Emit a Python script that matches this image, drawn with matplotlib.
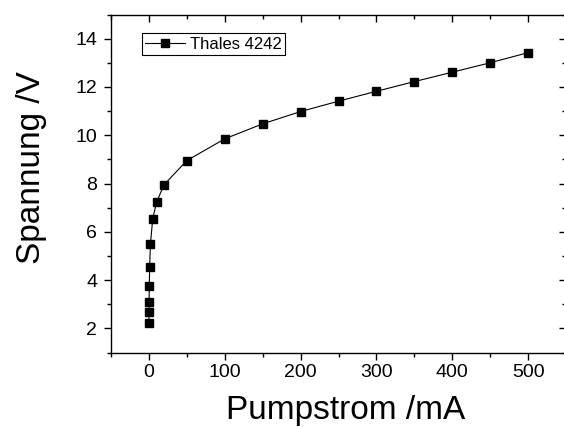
"""Pump voltage vs. pump current of a Thales 4242 (Origin-style plot)."""

import matplotlib
matplotlib.use('Agg')
import matplotlib.pyplot as plt
from matplotlib.ticker import MultipleLocator

# pump current in mA
current = [0, 0.1, 0.2, 0.5, 1, 2, 5, 10, 20, 50, 100, 150, 200, 250,
           300, 350, 400, 450, 500]
# voltage in V
voltage = [2.24, 2.67, 3.09, 3.74, 4.56, 5.50, 6.53, 7.22, 7.95, 8.95,
           9.85, 10.47, 10.98, 11.41, 11.82, 12.22, 12.61, 13.00, 13.42]

series_label = 'Thales 4242'
x_label = 'Pumpstrom /mA'
y_label = 'Spannung /V'


def make_plot(name):
    plt.rcParams['font.family'] = ['Liberation Sans', 'DejaVu Sans']
    fig = plt.figure(figsize=(5.64, 4.28), dpi=100)
    ax = fig.add_axes([111 / 564, 1 - 352.5 / 428,
                       455 / 564, 338 / 428])

    ax.plot(current, voltage, color='k', linewidth=0.8, marker='s',
            markersize=5.5, label=series_label)

    ax.set_xlim(-50, 550)
    ax.set_ylim(1, 15)
    ax.xaxis.set_major_locator(MultipleLocator(100))
    ax.xaxis.set_minor_locator(MultipleLocator(50))
    ax.yaxis.set_major_locator(MultipleLocator(2))
    ax.yaxis.set_minor_locator(MultipleLocator(1))

    for spine in ax.spines.values():
        spine.set_linewidth(1.0)

    ax.tick_params(axis='both', which='major', direction='out', length=5,
                   width=1, labelsize=14)
    ax.tick_params(axis='both', which='minor', direction='out', length=3,
                   width=1)
    ax.tick_params(axis='x', which='major', pad=3)
    ax.tick_params(axis='y', which='major', pad=5)
    # mirrored ticks on top and right point inwards
    ax.tick_params(axis='x', which='both', top=True, labeltop=False)
    ax.tick_params(axis='y', which='both', right=True, labelright=False)
    for tick in ax.xaxis.get_major_ticks() + ax.xaxis.get_minor_ticks():
        tick.tick2line.set_marker(matplotlib.lines.TICKDOWN)
    for tick in ax.yaxis.get_major_ticks() + ax.yaxis.get_minor_ticks():
        tick.tick2line.set_marker(matplotlib.lines.TICKLEFT)

    ax.set_xlabel(x_label, fontsize=24, labelpad=10)
    ax.set_ylabel(y_label, fontsize=24, labelpad=20)
    # Origin puts the labels a little off the axis centre
    ax.xaxis.label.set_x(0.516)
    ax.yaxis.label.set_y(0.546)

    leg = ax.legend(loc='upper left', bbox_to_anchor=(0.068, 0.944),
                    fontsize=12, frameon=True, fancybox=False,
                    edgecolor='k', framealpha=1, borderpad=0.2,
                    handlelength=2.4, handletextpad=0.3, borderaxespad=0)
    leg.get_frame().set_linewidth(0.8)

    fig.savefig(name + '.png', dpi=100)


if __name__ == '__main__':
    make_plot('out')
